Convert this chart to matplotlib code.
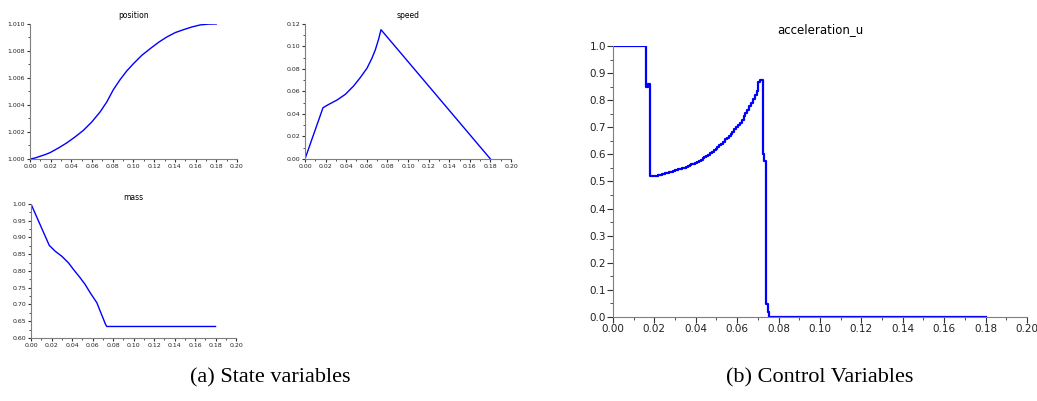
import matplotlib.pyplot as plt
from matplotlib.ticker import MultipleLocator

# state variables
t_pos = [0.0, 0.0048, 0.0097, 0.0145, 0.0194, 0.0274, 0.0355, 0.0435, 0.0516, 0.0597,
         0.0677, 0.0742, 0.0806, 0.0871, 0.0935, 0.100, 0.1081, 0.1161, 0.1242, 0.1323,
         0.1403, 0.1484, 0.1565, 0.1645, 0.1726, 0.18]
position = [1.0, 1.00007, 1.00020, 1.00032, 1.00047, 1.00081, 1.00119, 1.00163, 1.00212, 1.00274,
            1.00348, 1.00422, 1.00514, 1.00588, 1.00652, 1.00706, 1.00768, 1.00817, 1.00864, 1.00904,
            1.00936, 1.00958, 1.00978, 1.00993, 1.00999, 1.010]

t_speed = [0.0, 0.0175, 0.0230, 0.0311, 0.0392, 0.0472, 0.0537, 0.0602, 0.0650, 0.0683,
           0.0715, 0.0738, 0.18]
speed = [0.0, 0.0456, 0.0485, 0.0524, 0.0575, 0.0649, 0.0724, 0.0807, 0.0896, 0.0971,
         0.1066, 0.1149, 0.0]

t_mass = [0.0, 0.0178, 0.0237, 0.0301, 0.0366, 0.0415, 0.0480, 0.0528, 0.0577, 0.0642,
          0.0674, 0.0707, 0.0726, 0.0739, 0.18]
mass = [1.0, 0.8765, 0.8587, 0.8439, 0.8241, 0.8043, 0.7796, 0.7599, 0.7352, 0.7055,
        0.6808, 0.6561, 0.6413, 0.6344, 0.6344]

# control variable (piecewise constant)
t_u = [0.0, 0.0161, 0.0168, 0.0181, 0.0190, 0.0199, 0.0208, 0.0217, 0.0226, 0.0235,
       0.0244, 0.0253, 0.0262, 0.0271, 0.0280, 0.0289, 0.0298, 0.0307, 0.0316, 0.0325,
       0.0334, 0.0343, 0.0352, 0.0361, 0.0370, 0.0379, 0.0388, 0.0397, 0.0406, 0.0415,
       0.0424, 0.0433, 0.0442, 0.0451, 0.0460, 0.0469, 0.0478, 0.0487, 0.0496, 0.0505,
       0.0514, 0.0523, 0.0532, 0.0541, 0.0550, 0.0559, 0.0568, 0.0577, 0.0586, 0.0595,
       0.0604, 0.0613, 0.0622, 0.0631, 0.0640, 0.0649, 0.0658, 0.0667, 0.0676, 0.0685,
       0.0694, 0.0703, 0.0712, 0.0723, 0.0730, 0.0737, 0.0741, 0.0748, 0.0756, 0.18]
u = [1.0, 0.85, 0.86, 0.519, 0.520, 0.521, 0.522, 0.523, 0.524, 0.526,
     0.528, 0.530, 0.532, 0.534, 0.536, 0.538, 0.541, 0.543, 0.545, 0.547,
     0.549, 0.551, 0.554, 0.557, 0.560, 0.563, 0.566, 0.569, 0.573, 0.577,
     0.581, 0.585, 0.589, 0.594, 0.599, 0.604, 0.609, 0.615, 0.621, 0.627,
     0.633, 0.640, 0.647, 0.655, 0.662, 0.669, 0.676, 0.684, 0.692, 0.700,
     0.708, 0.717, 0.728, 0.740, 0.752, 0.765, 0.778, 0.791, 0.805, 0.820,
     0.835, 0.868, 0.876, 0.60, 0.577, 0.554, 0.049, 0.02, 0.0, 0.0]

BLUE = '#0000ff'
GRAY = '#7f7f7f'


def style(ax, ymaj, ymin, fs, ticklen):
    ax.set_xlim(0, 0.2)
    for s in ('top', 'right'):
        ax.spines[s].set_visible(False)
    for s in ('left', 'bottom'):
        ax.spines[s].set_color(GRAY)
    ax.xaxis.set_major_locator(MultipleLocator(0.02))
    ax.xaxis.set_minor_locator(MultipleLocator(0.01))
    ax.yaxis.set_major_locator(MultipleLocator(ymaj))
    ax.yaxis.set_minor_locator(MultipleLocator(ymin))
    ax.tick_params(which='major', length=ticklen, width=0.8, color='#333333',
                   labelsize=fs, labelcolor='#222222', pad=1)
    ax.tick_params(which='minor', length=ticklen * 0.6, width=0.6, color='#333333')
    ax.xaxis.set_major_formatter(plt.FormatStrFormatter('%.2f'))


fig = plt.figure(figsize=(10.37, 4.01), dpi=100)

ax1 = fig.add_axes([0.0289, 0.6035, 0.1996, 0.3367])
ax1.plot(t_pos, position, color=BLUE, lw=1.0)
ax1.set_ylim(1.0, 1.010)
style(ax1, 0.002, 0.001, 4.5, 2.5)
ax1.yaxis.set_major_formatter(plt.FormatStrFormatter('%.3f'))
ax1.set_title('position', fontsize=5.5, pad=4)

ax2 = fig.add_axes([0.2941, 0.6035, 0.1987, 0.3367])
ax2.plot(t_speed, speed, color=BLUE, lw=1.0)
ax2.set_ylim(0, 0.12)
style(ax2, 0.02, 0.01, 4.5, 2.5)
ax2.yaxis.set_major_formatter(plt.FormatStrFormatter('%.2f'))
ax2.set_title('speed', fontsize=5.5, pad=4)

ax3 = fig.add_axes([0.0299, 0.1571, 0.1977, 0.3342])
ax3.plot(t_mass, mass, color=BLUE, lw=1.0)
ax3.set_ylim(0.6, 1.0)
style(ax3, 0.05, 0.025, 4.5, 2.5)
ax3.yaxis.set_major_formatter(plt.FormatStrFormatter('%.2f'))
ax3.set_title('mass', fontsize=5.5, pad=3)

ax4 = fig.add_axes([0.5911, 0.2095, 0.3992, 0.6758])
ax4.plot(t_u, u, color=BLUE, lw=1.6, drawstyle='steps-post')
ax4.set_ylim(0, 1.0)
style(ax4, 0.1, 0.05, 7.5, 4)
ax4.yaxis.set_major_formatter(plt.FormatStrFormatter('%.1f'))
ax4.set_title('acceleration_u', fontsize=8.5, pad=9)

fig.text(0.261, 0.057, '(a) State variables', ha='center', va='center',
         fontsize=16, family='Liberation Serif')
fig.text(0.790, 0.057, '(b) Control Variables', ha='center', va='center',
         fontsize=16, family='Liberation Serif')

fig.savefig('out.png', dpi=100)
